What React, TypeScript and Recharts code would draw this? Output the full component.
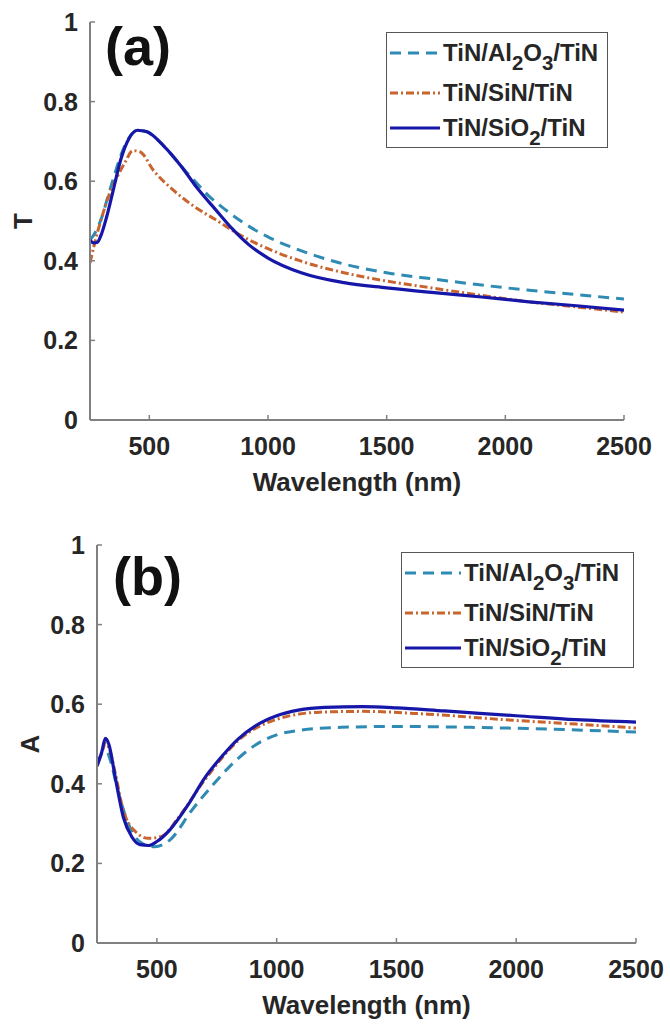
import React from 'react';
import { LineChart, Line, XAxis, YAxis, Legend } from 'recharts';

// ---- panel (a): transmittance T ----
const tAl2o3Wl = [250, 280, 300, 320, 350, 380, 410, 450, 480, 550, 600, 650, 700, 750, 800, 900, 1000, 1150, 1300, 1500, 1700, 1900, 2100, 2300, 2500];
const tAl2o3 = [0.452, 0.48, 0.51, 0.55, 0.61, 0.665, 0.705, 0.727, 0.726, 0.695, 0.662, 0.627, 0.595, 0.563, 0.538, 0.494, 0.46, 0.423, 0.395, 0.37, 0.354, 0.339, 0.326, 0.315, 0.304];

const tSinWl = [250, 270, 300, 330, 360, 400, 430, 460, 520, 600, 690, 780, 870, 960, 1140, 1320, 1500, 1700, 1900, 2100, 2300, 2500];
const tSin = [0.395, 0.445, 0.51, 0.565, 0.605, 0.65, 0.677, 0.674, 0.625, 0.578, 0.536, 0.503, 0.469, 0.441, 0.399, 0.37, 0.349, 0.331, 0.313, 0.297, 0.284, 0.271];

const tSio2Wl = [250, 265, 280, 300, 320, 345, 380, 415, 450, 490, 560, 630, 700, 780, 850, 920, 1000, 1140, 1320, 1500, 1700, 1900, 2100, 2300, 2500];
const tSio2 = [0.452, 0.445, 0.446, 0.47, 0.51, 0.57, 0.655, 0.708, 0.728, 0.724, 0.689, 0.641, 0.584, 0.528, 0.48, 0.44, 0.407, 0.37, 0.345, 0.332, 0.32, 0.309, 0.297, 0.287, 0.276];

// ---- panel (b): absorptance A ----
const aAl2o3Wl = [250, 270, 290, 310, 330, 355, 400, 440, 490, 555, 645, 735, 825, 910, 1000, 1090, 1270, 1500, 1800, 2160, 2500];
const aAl2o3 = [0.45, 0.475, 0.48, 0.45, 0.4, 0.345, 0.275, 0.25, 0.242, 0.259, 0.333, 0.398, 0.456, 0.497, 0.523, 0.534, 0.542, 0.544, 0.542, 0.537, 0.53];

const aSinWl = [250, 270, 285, 300, 325, 360, 410, 465, 520, 590, 700, 840, 1000, 1180, 1360, 1630, 2000, 2250, 2500];
const aSin = [0.448, 0.478, 0.502, 0.49, 0.43, 0.333, 0.28, 0.263, 0.268, 0.315, 0.41, 0.509, 0.562, 0.58, 0.582, 0.575, 0.559, 0.55, 0.54];

const aSio2Wl = [250, 270, 285, 300, 325, 360, 395, 430, 465, 500, 555, 630, 700, 770, 840, 910, 1000, 1090, 1200, 1360, 1500, 1700, 2000, 2250, 2500];
const aSio2 = [0.444, 0.48, 0.514, 0.498, 0.42, 0.316, 0.267, 0.247, 0.245, 0.255, 0.285, 0.347, 0.415, 0.468, 0.513, 0.545, 0.571, 0.585, 0.592, 0.594, 0.591, 0.583, 0.571, 0.561, 0.555];

const xTicks = [500, 1000, 1500, 2000, 2500];
const yTicks = [0, 0.2, 0.4, 0.6, 0.8, 1];
const seriesNames = ['TiN/Al2O3/TiN', 'TiN/SiN/TiN', 'TiN/SiO2/TiN'];

const FONT = '"Liberation Sans", Arial, Helvetica, sans-serif';
const INK = '#262626';
const AXIS = '#808080';
const TEAL = '#2f8bb3';
const ORANGE = '#c8652f';
const BLUE = '#1616a8';

const styles = [
  { color: TEAL, dash: '11 7', width: 3 },
  { color: ORANGE, dash: '8 3 2 3', width: 3 },
  { color: BLUE, dash: undefined, width: 3.2 },
];

const zip = (wl: number[], v: number[]) => wl.map((w, i) => ({ wl: w, v: v[i] }));

// digits in a formula become subscripts
function Formula({ text }: { text: string }) {
  const parts = text.split(/(\d)/).filter(Boolean);
  return (
    <>
      {parts.map((p, i) =>
        /\d/.test(p) ? (
          <span key={i} style={{ fontSize: '0.85em', position: 'relative', top: '0.45em' }}>{p}</span>
        ) : (
          <span key={i}>{p}</span>
        )
      )}
    </>
  );
}

const XTick = ({ x, y, payload }: any) => (
  <g>
    <line x1={x} x2={x} y1={y} y2={y - 5} stroke={AXIS} strokeWidth={1.5} />
    <text x={x} y={y + 35} textAnchor="middle" fontFamily={FONT} fontWeight="bold" fontSize={25} fill={INK}>
      {payload.value}
    </text>
  </g>
);

const YTick = ({ x, y, payload }: any) => (
  <g>
    <line x1={x} x2={x + 5} y1={y} y2={y} stroke={AXIS} strokeWidth={1.5} />
    <text x={x - 12} y={y + 9} textAnchor="end" fontFamily={FONT} fontWeight="bold" fontSize={25} fill={INK}>
      {String(payload.value)}
    </text>
  </g>
);

const xTitle = (props: any) => {
  const vb = props.viewBox;
  return (
    <text x={vb.x + vb.width / 2} y={vb.y + 71} textAnchor="middle" fontFamily={FONT} fontWeight="bold" fontSize={26} fill={INK}>
      Wavelength (nm)
    </text>
  );
};

const yTitle = (text: string) => (props: any) => {
  const vb = props.viewBox;
  const bx = vb.x - 8;
  const cy = vb.y + vb.height / 2;
  return (
    <text x={bx} y={cy} transform={`rotate(-90, ${bx}, ${cy})`} textAnchor="middle" fontFamily={FONT} fontWeight="bold" fontSize={26} fill={INK}>
      {text}
    </text>
  );
};

function LegendBox({ sampleW }: { sampleW: number }) {
  const rowCenters = [20, 60, 95];
  return (
    <div style={{ position: 'relative', width: '100%', height: '100%', boxSizing: 'border-box', border: `1.5px solid #555`, background: '#fff' }}>
      {seriesNames.map((name, i) => (
        <div
          key={name}
          style={{ position: 'absolute', left: 1, top: rowCenters[i] - 14, height: 28, display: 'flex', alignItems: 'center', whiteSpace: 'nowrap' }}
        >
          <svg width={sampleW} height={10} style={{ display: 'block' }}>
            <line x1={2} x2={sampleW} y1={5} y2={5} stroke={styles[i].color} strokeWidth={styles[i].width} strokeDasharray={styles[i].dash} />
          </svg>
          <span style={{ marginLeft: 3, fontFamily: FONT, fontWeight: 'bold', fontSize: 24, color: INK, lineHeight: '28px' }}>
            <Formula text={name} />
          </span>
        </div>
      ))}
    </div>
  );
}

interface PanelProps {
  top: number;
  height: number;
  margin: { top: number; right: number; bottom: number; left: number };
  data: { wl: number; v: number }[][];
  yLabel: string;
  tag: string;
  tagPos: { left: number; top: number };
  legend: { left: number; top: number; width: number; height: number; sampleW: number };
}

function Panel({ top, height, margin, data, yLabel, tag, tagPos, legend }: PanelProps) {
  return (
    <div style={{ position: 'absolute', left: 0, top, width: 670, height }}>
      <LineChart width={670} height={height} margin={margin}>
        <XAxis
          type="number"
          dataKey="wl"
          domain={[250, 2500]}
          ticks={xTicks}
          allowDataOverflow
          height={60}
          stroke={AXIS}
          strokeWidth={2}
          tickLine={false}
          tickSize={0}
          tickMargin={0}
          tick={<XTick />}
          label={{ value: 'Wavelength (nm)', content: xTitle }}
        />
        <YAxis
          type="number"
          domain={[0, 1]}
          ticks={yTicks}
          width={50}
          stroke={AXIS}
          strokeWidth={2}
          tickLine={false}
          tickSize={0}
          tickMargin={0}
          tick={<YTick />}
          label={{ value: yLabel, content: yTitle(yLabel) }}
        />
        {data.map((pts, i) => (
          <Line
            key={seriesNames[i]}
            name={seriesNames[i]}
            data={pts}
            dataKey="v"
            type="monotone"
            dot={false}
            activeDot={false}
            stroke={styles[i].color}
            strokeWidth={styles[i].width}
            strokeDasharray={styles[i].dash}
            isAnimationActive={false}
          />
        ))}
        <Legend
          layout="vertical"
          align="center"
          verticalAlign="middle"
          wrapperStyle={{ position: 'absolute', left: legend.left, top: legend.top, width: legend.width, height: legend.height }}
          content={() => <LegendBox sampleW={legend.sampleW} />}
        />
      </LineChart>
      <div
        style={{ position: 'absolute', left: tagPos.left, top: tagPos.top, fontFamily: FONT, fontWeight: 'bold', fontSize: 54, color: '#111', lineHeight: 1 }}
      >
        {tag}
      </div>
    </div>
  );
}

export default function App() {
  return (
    <div style={{ position: 'absolute', left: 0, top: 0, width: 670, height: 1028, background: '#fff' }}>
      <Panel
        top={0}
        height={505}
        margin={{ top: 22, right: 46, bottom: 25, left: 40 }}
        data={[zip(tAl2o3Wl, tAl2o3), zip(tSinWl, tSin), zip(tSio2Wl, tSio2)]}
        yLabel="T"
        tag="(a)"
        tagPos={{ left: 105, top: 19 }}
        legend={{ left: 386, top: 32, width: 222, height: 116, sampleW: 52 }}
      />
      <Panel
        top={520}
        height={508}
        margin={{ top: 25, right: 34, bottom: 25, left: 47 }}
        data={[zip(aAl2o3Wl, aAl2o3), zip(aSinWl, aSin), zip(aSio2Wl, aSio2)]}
        yLabel="A"
        tag="(b)"
        tagPos={{ left: 113, top: 29 }}
        legend={{ left: 401, top: 32, width: 233, height: 116, sampleW: 58 }}
      />
    </div>
  );
}
